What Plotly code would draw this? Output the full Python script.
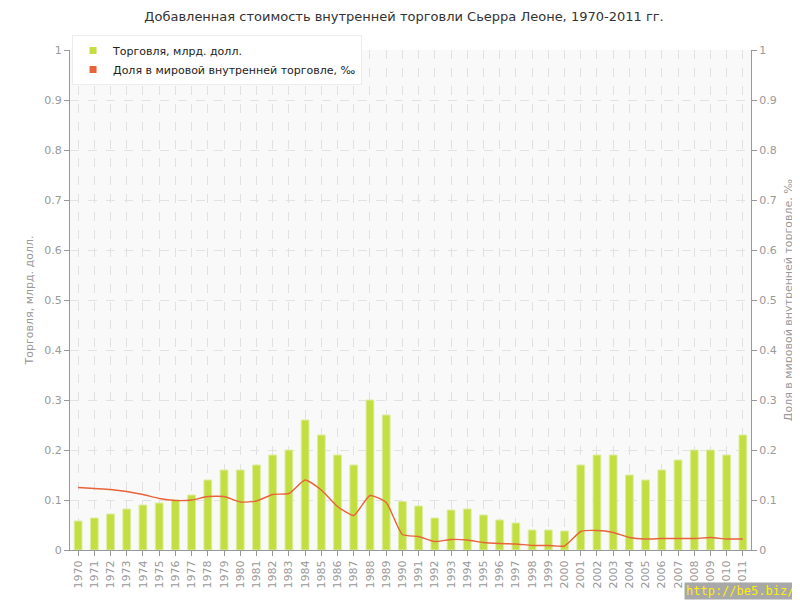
import plotly.graph_objects as go

years = [str(y) for y in range(1970, 2012)]
trade = [0.058, 0.064, 0.072, 0.082, 0.09, 0.094, 0.1, 0.11, 0.14, 0.16,
         0.16, 0.17, 0.19, 0.2, 0.26, 0.23, 0.19, 0.17, 0.3, 0.27,
         0.097, 0.088, 0.064, 0.08, 0.082, 0.07, 0.06, 0.054, 0.04, 0.04,
         0.038, 0.17, 0.19, 0.19, 0.15, 0.14, 0.16, 0.18, 0.2, 0.2,
         0.19, 0.23]
share = [0.125, 0.123, 0.121, 0.117, 0.111, 0.103, 0.099, 0.1, 0.107, 0.107,
         0.096, 0.098, 0.111, 0.113, 0.14, 0.12, 0.087, 0.069, 0.109, 0.095,
         0.031, 0.027, 0.017, 0.021, 0.02, 0.015, 0.013, 0.012, 0.009, 0.009,
         0.008, 0.037, 0.039, 0.035, 0.025, 0.022, 0.023, 0.023, 0.023, 0.025,
         0.022, 0.022]
yticks = [0, 0.1, 0.2, 0.3, 0.4, 0.5, 0.6, 0.7, 0.8, 0.9, 1]
yticklabels = ["0", "0.1", "0.2", "0.3", "0.4", "0.5", "0.6", "0.7", "0.8", "0.9", "1"]

GREEN = "#c2de40"
ORANGE = "#e8633a"
FONT = "DejaVu Sans"

fig = go.Figure()
fig.add_trace(go.Bar(
    x=years, y=trade, name="Торговля, млрд. долл.",
    marker=dict(color=GREEN, line=dict(color="#dcedA0", width=1)),
    width=0.48, showlegend=False))
fig.add_trace(go.Scatter(
    x=years, y=share, yaxis="y2", mode="lines",
    line=dict(color=ORANGE, width=1.4, shape="spline", smoothing=0.5),
    showlegend=False))
fig.add_trace(go.Scatter(
    x=[None], y=[None], mode="markers", name="Торговля, млрд. долл.",
    marker=dict(symbol="square", color=GREEN, size=7), showlegend=True))
fig.add_trace(go.Scatter(
    x=[None], y=[None], mode="markers", name="Доля в мировой внутренней торговле, ‰",
    marker=dict(symbol="square", color=ORANGE, size=7), showlegend=True))

axis_common = dict(
    range=[0, 1], tickvals=yticks, ticktext=yticklabels,
    ticks="outside", ticklen=5, tickcolor="#999",
    showline=True, linecolor="#999", linewidth=1,
    tickfont=dict(family=FONT, size=11, color="#999"),
    zeroline=False,
)

# page body has an 8px margin, so the figure is sized/offset to compensate
fig.update_layout(
    width=792, height=592,
    margin=dict(l=62, r=49, t=42, b=50, autoexpand=False),
    paper_bgcolor="white", plot_bgcolor="#f9f9f9",
    title=dict(text="Добавленная стоимость внутренней торговли Сьерра Леоне, 1970-2011 гг.",
               x=0.5, xanchor="center", y=0.985, yanchor="middle",
               font=dict(family=FONT, size=13, color="#333")),
    font=dict(family=FONT),
    xaxis=dict(
        type="category", tickangle=-90, ticks="outside", ticklen=5, tickcolor="#999",
        showline=True, linecolor="#999",
        tickfont=dict(family=FONT, size=11, color="#999"),
        showgrid=True, gridcolor="rgba(222,222,222,0.9)", griddash="dash",
        layer="above traces",
    ),
    yaxis=dict(
        **axis_common,
        showgrid=True, gridcolor="#e2e2e2", griddash="dash",
        title=dict(text="Торговля, млрд. долл.", font=dict(family=FONT, size=11, color="#999"), standoff=8),
    ),
    yaxis2=dict(
        **axis_common,
        overlaying="y", side="right", showgrid=False,
        title=dict(text="Доля в мировой внутренней торговле, ‰", font=dict(family=FONT, size=11, color="#999"), standoff=8),
    ),
    legend=dict(
        x=0.003, y=1.03, xanchor="left", yanchor="top",
        bgcolor="white", bordercolor="#ececec", borderwidth=1,
        font=dict(family=FONT, size=11, color="#222"),
        tracegroupgap=0, itemwidth=30,
    ),
    showlegend=True,
)

fig.add_annotation(
    text="http://be5.biz/", xref="paper", yref="paper", x=1.066, y=-0.1,
    xanchor="right", yanchor="bottom", showarrow=False,
    font=dict(family="DejaVu Sans Mono", size=12, color="#ffee00"), bgcolor="#a8a8a8",
    borderpad=1,
)

fig.write_html("out.html")
